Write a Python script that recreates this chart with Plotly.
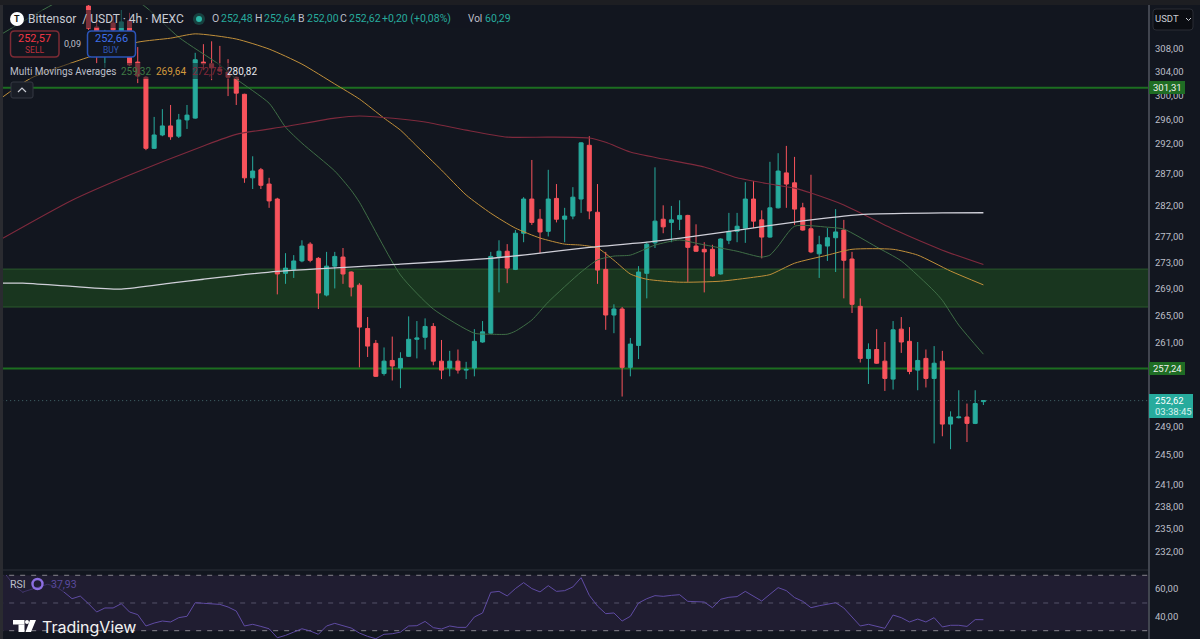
import math
import plotly.graph_objects as go

# ---- candles (4h bars, oldest first) ----
candle_open = [315.5,311.8,308.6,312.5,310.9,312.9,305.7,303.1,291.2,293.4,294.9,293.2,295.9,296.2,305.7,305.4,304.5,304.0,303.1,300.2,
286.4,287.7,285.4,283.0,271.4,272.0,273.3,275.9,273.7,268.1,272.5,273.9,271.6,269.6,263.1,260.9,256.5,258.4,257.3,259.0,
261.5,261.8,263.4,258.3,257.3,258.3,257.0,257.3,261.1,262.4,274.0,274.8,272.0,277.6,283.0,279.8,277.9,283.1,279.8,280.3,
283.0,291.7,280.9,272.0,265.1,266.0,257.4,260.6,271.4,276.1,279.8,279.3,279.8,280.4,275.6,275.1,275.1,271.3,276.5,277.9,
278.4,283.0,279.7,277.0,281.6,287.2,285.6,281.6,278.3,274.4,275.6,276.9,278.1,273.6,266.4,258.7,260.0,258.3,255.7,263.0,
261.2,257.0,258.7,255.8,258.3,249.3,250.2,250.3,249.4,252.48]
candle_high = [316.1,313.0,311.3,313.9,314.8,314.3,308.3,303.3,296.4,297.7,298.4,296.9,298.4,307.3,308.8,309.3,308.5,306.2,303.2,300.3,
289.9,288.0,286.4,283.2,274.5,274.2,276.5,276.2,273.9,274.7,274.7,275.3,271.7,269.9,264.8,261.4,260.3,261.9,259.6,264.9,
264.2,264.6,263.9,261.4,259.8,260.0,258.2,263.0,264.2,274.7,276.5,275.9,278.1,283.3,289.3,281.4,287.7,285.4,281.6,284.9,
292.2,293.2,285.4,274.7,266.7,266.3,261.7,272.5,276.2,288.1,282.0,281.9,282.8,280.5,279.0,276.2,275.8,276.8,280.8,280.8,
285.7,285.9,281.2,289.0,290.4,291.6,289.8,282.4,286.9,277.2,278.4,281.4,279.7,274.7,267.6,260.9,263.0,261.1,264.2,264.8,
263.3,261.1,260.0,260.5,259.8,251.1,254.1,252.2,254.1,252.64]
candle_low = [311.3,305.5,304.7,310.9,310.7,305.0,302.1,290.9,291.1,293.2,292.6,292.9,294.4,296.1,304.3,302.6,304.0,299.9,298.4,285.6,
284.6,284.6,281.6,268.2,269.8,270.7,273.1,273.1,266.0,267.9,269.1,269.8,267.9,257.4,258.9,256.0,256.2,255.5,254.4,258.9,
258.7,260.0,257.7,255.7,256.1,256.5,255.7,256.1,261.0,262.3,268.5,269.9,271.9,276.2,278.9,274.5,277.1,279.3,276.2,279.8,
280.8,279.8,269.8,262.9,262.4,253.2,256.1,258.6,267.6,275.3,277.6,276.2,278.1,270.1,274.7,268.5,270.9,271.2,275.9,276.2,
276.1,278.4,273.7,276.9,281.5,281.6,278.9,278.0,274.5,270.7,273.3,271.6,267.6,265.4,258.1,255.0,257.9,254.0,254.2,259.5,
256.4,254.1,254.5,246.6,247.6,245.8,250.1,246.8,249.3,252.00]
candle_close = [311.6,311.1,309.5,311.3,312.7,305.2,303.3,291.2,293.4,294.9,293.1,295.9,296.7,306.1,305.4,304.7,304.2,303.1,300.4,286.4,
287.5,285.2,282.7,271.3,272.2,273.3,275.6,273.4,268.4,272.5,274.0,271.3,269.3,263.3,260.5,256.1,258.3,257.6,258.7,261.5,
261.7,263.4,258.3,257.0,258.3,257.0,257.1,261.2,262.6,274.0,274.8,272.2,277.6,283.0,279.3,277.8,283.0,279.8,280.3,283.3,
292.1,281.1,271.9,265.1,266.0,257.4,260.8,271.6,275.9,279.5,278.6,279.7,280.4,275.4,274.8,274.7,271.0,276.7,277.9,278.7,
283.0,279.5,277.0,281.6,287.5,285.4,281.4,278.1,274.7,275.8,276.9,277.8,273.4,266.7,258.7,260.0,258.0,255.8,262.9,261.1,
256.8,258.4,255.8,258.0,249.3,250.3,250.3,249.4,252.2,252.62]
candle_index = list(range(len(candle_open)))

# ---- moving averages: (bar index, value) ----
ma_fast_index = [-11,-4,0,4,7,11,16,18,22,24,26,30,32,33,38,42,47,49,51,52,54,56,60,62,64,66,69,72,74,77,79,82,83,84,86,90,92,96,99,103,104,106,109]
ma_fast = [310.2,316.05,318.4,318.1,315.3,310.0,305.2,302.8,298.7,294.7,292.05,287.5,284.4,282.5,271.15,266.0,262.4,262.25,262.25,262.7,264.35,267.05,271.6,273.45,274.05,274.2,275.75,276.55,276.05,275.3,274.8,273.9,274.2,275.6,278.7,278.55,278.25,275.45,273.3,268.7,267.3,263.6,259.32]

ma_mid_index = [-11,-7,0,6,10,13,18,22,26,30,33,36,38,40,43,46,49,52,55,58,60,62,64,66,68,72,77,81,83,86,90,93,98,101,105,109]
ma_mid = [299.2,302.95,306.55,309.15,309.85,310.6,309.7,307.95,305.35,301.95,299.4,296.2,294.2,291.55,287.65,283.65,280.75,278.4,276.85,275.9,275.75,275.3,273.4,271.3,270.5,270.05,270.2,270.8,271.2,272.95,274.2,275.1,275.1,274.2,271.75,269.64]

ma_slow_index = [-11,-2,5,14,18,24,30,33,38,41,46,51,56,61,63,66,70,75,79,83,86,88,92,98,104,109]
ma_slow = [276.4,282.8,286.85,291.6,293.5,294.8,296.2,296.55,296.05,295.55,294.2,293.05,293.05,292.9,292.2,290.6,289.45,288.15,286.4,285.4,284.75,283.95,282.05,278.25,274.97,272.75]

ma_long_index = [-11,-8,-2,4,10,14,23,38,49,54,61,68,73,80,86,88,92,95,104,109]
ma_long = [269.9,269.9,269.4,269.0,269.9,270.5,271.7,272.8,273.7,274.35,275.4,276.2,277.0,278.25,279.35,279.7,280.3,280.6,280.8,280.82]

# ---- RSI, one reading per bar from index -10 ----
rsi_index = list(range(-10, 110))
rsi_values = [70,62.0,57.9,59.6,61.6,63.5,62,58,53.1,55,
49.5,43.5,46.4,46.4,49.5,43.5,41.6,33.4,35.5,37,36.3,39.4,40.4,50.2,49.8,49.5,49,47.1,44.2,33.4,
34.6,33.1,31.4,24.9,26.6,29,31.4,29.8,27.4,33.4,35.3,33.6,31.9,28.3,25.9,24.2,27.4,27.8,29,33.4,
33.6,36.7,32.2,31.2,33.4,32.4,32.4,39.9,42.8,57.7,58.4,55.1,60.4,64.7,60.4,58,62.5,58.4,58.9,61.6,
68.3,55.5,47.8,42.3,42.8,37,40.4,50,53.1,55.3,54.8,55.5,56,51.2,50.7,50.7,46.6,52.7,54.1,54.6,
58.4,54.8,51.4,56.3,61.1,58.9,53.9,51.2,46.6,48,49.3,50.2,46.4,39.9,33.4,34.6,33.1,31.7,41.3,39.4,
36.3,38.4,36.3,39.4,32.7,33.9,33.9,33.1,38,37.93]

# ---- horizontal levels and axis labels ----
level_upper = 301.31
level_lower = 257.24
zone_top = 272.05
zone_bottom = 266.3
last_price = 252.62
price_ticks = [308,304,300,296,292,287,282,277,273,269,265,261,253,249,245,241,238,235,232]
price_tick_text = ["308,00","304,00","300,00","296,00","292,00","287,00","282,00","277,00","273,00","269,00","265,00","261,00","253,00","249,00","245,00","241,00","238,00","235,00","232,00"]
rsi_ticks = [60, 40]
rsi_tick_text = ["60,00", "40,00"]
rsi_lines = [70, 50, 30]

# ---- styling ----
W, H = 1200, 639
FONT = "Roboto"
BG = "#12161f"
TEAL = "#27ab9d"
RED = "#f8535c"
TEXT = "#bcbfc8"
LEVEL = "#1c6e20"

def fx(x):
    return x / W

def fy(y):
    return 1 - y / H

def rounded(x0, y0, x1, y1, r):
    a, b, c, d = fx(x0), fy(y0), fx(x1), fy(y1)
    rx, ry = r / W, r / H
    return (f"M {a+rx} {b} L {c-rx} {b} Q {c} {b} {c} {b-ry} L {c} {d+ry} Q {c} {d} {c-rx} {d} "
            f"L {a+rx} {d} Q {a} {d} {a} {d+ry} L {a} {b-ry} Q {a} {b} {a+rx} {b} Z")

annotations = []
shapes = []

def label(x, y, text, color=TEXT, size=11, anchor="left", family=FONT):
    annotations.append(dict(x=fx(x), y=fy(y), xref="paper", yref="paper", text=text, showarrow=False,
                            xanchor=anchor, yanchor="middle", align=anchor, borderpad=0, borderwidth=0,
                            font=dict(color=color, size=size, family=family)))

def box(x0, y0, x1, y1, fill, line=None, width=1, radius=0, layer="above"):
    base = dict(xref="paper", yref="paper", fillcolor=fill, layer=layer,
                line=dict(color=line or "rgba(0,0,0,0)", width=width if line else 0))
    if radius:
        shapes.append(dict(type="path", path=rounded(x0, y0, x1, y1, radius), **base))
    else:
        shapes.append(dict(type="rect", x0=fx(x0), y0=fy(y0), x1=fx(x1), y1=fy(y1), **base))

# Price-pane levels sit behind the candles.
LEFT, RIGHT = -11, 135
shapes.append(dict(type="rect", xref="x", yref="y", x0=LEFT, x1=RIGHT, y0=zone_bottom, y1=zone_top, layer="below",
                   fillcolor="#19361f", line=dict(color="#2a582c", width=1)))
for lvl in (level_upper, level_lower):
    shapes.append(dict(type="line", xref="x", yref="y", x0=LEFT, x1=RIGHT, y0=lvl, y1=lvl, layer="below",
                       line=dict(color=LEVEL, width=2)))
shapes.append(dict(type="line", xref="x", yref="y", x0=LEFT, x1=RIGHT, y0=last_price, y1=last_price, layer="below",
                   line=dict(color="#44686c", width=1, dash="1px,3px")))

# RSI band and its guide lines.
shapes.append(dict(type="rect", xref="x", yref="y2", x0=LEFT, x1=RIGHT, y0=min(rsi_lines), y1=max(rsi_lines), layer="below",
                   fillcolor="#201d31", line=dict(width=0)))
for v, col in zip(rsi_lines, ("#85848c", "#55526a", "#85848c")):
    shapes.append(dict(type="line", xref="x", yref="y2", x0=LEFT, x1=RIGHT, y0=v, y1=v, layer="below",
                       line=dict(color=col, width=1, dash="5px,6px")))

# Pane separators and window edges.
box(0, 0, 3, H, "#2a2b30")
box(0, 0, W, 5, "#1d1e22")
box(3, 569.5, 1149, 570.5, "#2a2e39")
box(1148, 5, 1150, H, "#41454f")

# Header backing, dimming what runs underneath the text.
box(5, 10, 480, 28, "rgba(18,22,31,0.55)")
box(5, 63, 258, 79, "rgba(18,22,31,0.55)")
box(5, 576, 80, 592, "rgba(32,29,49,0.55)")

# Symbol row
shapes.append(dict(type="circle", xref="paper", yref="paper", x0=fx(10), y0=fy(12), x1=fx(24), y1=fy(26), fillcolor="#ffffff", line=dict(width=0)))
label(17, 19, "<b>T</b>", "#111111", 9, "center")
label(28, 19, "Bittensor  / USDT · 4h · MEXC", "#c9ccd4", 12)
shapes.append(dict(type="circle", xref="paper", yref="paper", x0=fx(193), y0=fy(13), x1=fx(205), y1=fy(25), fillcolor="#17403f", line=dict(width=0)))
shapes.append(dict(type="circle", xref="paper", yref="paper", x0=fx(196), y0=fy(16), x1=fx(202), y1=fy(22), fillcolor="#2bb5a6", line=dict(width=0)))
for x, letter, value in ((212, "O", "252,48"), (255, "H", "252,64"), (298, "B", "252,00"), (340, "C", "252,62")):
    label(x, 19, letter, TEXT, 10.5)
    label(x + 8.5, 19, value, TEAL, 10.5)
label(382, 19, "+0,20 (+0,08%)", TEAL, 10.5)
label(468, 19, "Vol", TEXT, 10)
label(485, 19, "60,29", TEAL, 10.5)

# Sell and buy buttons
box(10.5, 31, 59, 57, BG, "#7c2b35", 1.5, 4)
label(34.5, 39, "252,57", "#f23645", 11, "center")
label(34.5, 50, "SELL", "#b8303c", 8.5, "center")
label(72.5, 44, "0,09", TEXT, 9, "center")
box(87.5, 31, 135.5, 57, BG, "#2b54b8", 1.5, 4)
label(111.5, 39, "252,66", "#3d6fe8", 11, "center")
label(111.5, 50, "BUY", "#2f57b5", 8.5, "center")

# Indicator legend
label(10, 71, "Multi Movings Averages", TEXT, 10)
label(121, 71, "259,32", "#3f7a45", 10)
label(156, 71, "269,64", "#d39a3d", 10)
label(192, 71, "272,75", "#83283a", 10)
label(227, 71, "280,82", "#e8e8ec", 10)
box(11, 82, 33, 98, "#191d26", "#343842", 1, 2)
shapes.append(dict(type="path", xref="paper", yref="paper", line=dict(color="#c9ccd4", width=1.2),
                   path=f"M {fx(18)} {fy(92)} L {fx(22)} {fy(88)} L {fx(26)} {fy(92)}"))

# Unit selector and price badges
box(1153, 9, 1193, 30, "#0b0d12", "#2a2d35", 1, 3)
label(1155, 19, "USDT", "#c9ccd4", 9.5)
shapes.append(dict(type="path", xref="paper", yref="paper", line=dict(color="#c9ccd4", width=1),
                   path=f"M {fx(1186)} {fy(18)} L {fx(1188.5)} {fy(20.5)} L {fx(1191)} {fy(18)}"))
box(1149, 81, 1185, 94, "#1f6d24")
label(1167, 87.5, "301,31", "#f2f2f2", 9.5, "center")
box(1149, 362, 1185, 375, "#1f6d24")
label(1167, 368.5, "257,24", "#f2f2f2", 9.5, "center")
box(1149, 394, 1193, 418, TEAL)
label(1155, 401, "252,62", "#ffffff", 9.5)
label(1155, 411, "03:38:45", "#d8f2ef", 9.5)

# RSI header
label(10, 584, "RSI", TEXT, 10.5)
shapes.append(dict(type="circle", xref="paper", yref="paper", x0=fx(32.5), y0=fy(579), x1=fx(42.5), y1=fy(589), fillcolor="rgba(0,0,0,0)",
                   line=dict(color="#8c6ee0", width=2.4)))
label(51, 584, "37,93", "#5a4a9e", 10.5)

# TradingView mark and wordmark
box(13, 620, 24.5, 624.5, "#ffffff")
box(18.5, 624.5, 24.5, 632, "#ffffff")
shapes.append(dict(type="circle", xref="paper", yref="paper", x0=fx(25), y0=fy(620), x1=fx(29), y1=fy(624), fillcolor="#ffffff", line=dict(width=0)))
shapes.append(dict(type="path", xref="paper", yref="paper", fillcolor="#ffffff", line=dict(width=0),
                   path=f"M {fx(30)} {fy(620)} L {fx(36)} {fy(620)} L {fx(31)} {fy(632)} L {fx(25.5)} {fy(632)} Z"))
label(42, 626.5, "TradingView", "#f2f2f2", 16, family="Inter")

fig = go.Figure()
fig.add_trace(go.Candlestick(
    x=candle_index, open=candle_open, high=candle_high, low=candle_low, close=candle_close,
    increasing=dict(line=dict(color=TEAL, width=1), fillcolor=TEAL),
    decreasing=dict(line=dict(color=RED, width=1), fillcolor=RED),
    whiskerwidth=0, hoverinfo="skip", showlegend=False, xaxis="x", yaxis="y"))

for xs, ys, color, width in ((ma_fast_index, ma_fast, "#3f6e46", 1),
                             (ma_mid_index, ma_mid, "#c08f3a", 1),
                             (ma_slow_index, ma_slow, "#7f2a3d", 1.1),
                             (ma_long_index, ma_long, "#cfcfd8", 1.3)):
    fig.add_trace(go.Scatter(x=xs, y=ys, mode="lines", line=dict(color=color, width=width, shape="spline", smoothing=0.6),
                             hoverinfo="skip", showlegend=False, xaxis="x", yaxis="y"))

fig.add_trace(go.Scatter(x=rsi_index, y=rsi_values, mode="lines", line=dict(color="#5f4ba3", width=1),
                         hoverinfo="skip", showlegend=False, xaxis="x", yaxis="y2"))

PANE_SPLIT = (H - 571) / H
fig.update_layout(
    width=W, height=H, autosize=False, margin=dict(l=0, r=0, t=0, b=0),
    paper_bgcolor=BG, plot_bgcolor=BG, showlegend=False, hovermode=False,
    xaxis=dict(domain=[3 / W, 1149 / W], range=[-10.41, 129.17], visible=False, anchor="y", fixedrange=True,
               rangeslider=dict(visible=False)),
    yaxis=dict(domain=[PANE_SPLIT, (H - 5) / H], type="log", range=[math.log10(229.5), math.log10(315.69)],
               side="right", anchor="x", showgrid=False, zeroline=False, tickmode="array",
               tickvals=price_ticks, ticktext=price_tick_text, ticks="", ticklabelstandoff=5,
               tickfont=dict(color=TEXT, size=9.5, family=FONT), fixedrange=True),
    yaxis2=dict(domain=[0, PANE_SPLIT], range=[24.0, 73.1], side="right", anchor="x", showgrid=False, zeroline=False,
                tickmode="array", tickvals=rsi_ticks, ticktext=rsi_tick_text, ticks="", ticklabelstandoff=5,
                tickfont=dict(color=TEXT, size=9.5, family=FONT), fixedrange=True),
    shapes=shapes, annotations=annotations,
)

fig.write_html("out.html", config=dict(displayModeBar=False))
